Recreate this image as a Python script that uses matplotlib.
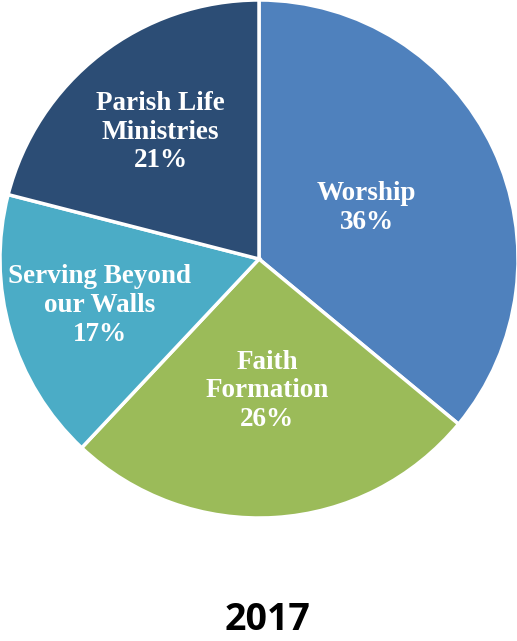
import numpy as np
import matplotlib
matplotlib.use("Agg")
import matplotlib.pyplot as plt

labels = ["Worship", "Faith\nFormation", "Serving Beyond\nour Walls", "Parish Life\nMinistries"]
values = [36, 26, 17, 21]
colors = ["#4F81BD", "#9BBB59", "#4BACC6", "#2C4D75"]
label_dist = [0.46, 0.51, 0.64, 0.62]
year = "2017"

fig = plt.figure(figsize=(5.17, 6.41), dpi=100)
ax = fig.add_axes([0.0, 1 - 519 / 641, 518 / 517, 520 / 641])

wedges, _ = ax.pie(values, colors=colors, startangle=90, counterclock=False,
                   wedgeprops=dict(edgecolor="white", linewidth=2.5))

for w, lab, v, d in zip(wedges, labels, values, label_dist):
    ang = np.deg2rad((w.theta1 + w.theta2) / 2)
    ax.text(d * np.cos(ang), d * np.sin(ang), f"{lab}\n{v}%",
            ha="center", va="center", color="white", fontsize=19.5,
            fontweight="bold", family="Liberation Serif", linespacing=1.2)

ax.set_xlim(-1.0, 1.0)
ax.set_ylim(-1.0, 1.0)
ax.set_aspect("equal")
ax.axis("off")

fig.text(0.518, 1 - 620 / 641, year, ha="center", va="center",
         fontsize=27, fontweight="bold", family="Open Sans")

fig.savefig("out.png", dpi=100)
